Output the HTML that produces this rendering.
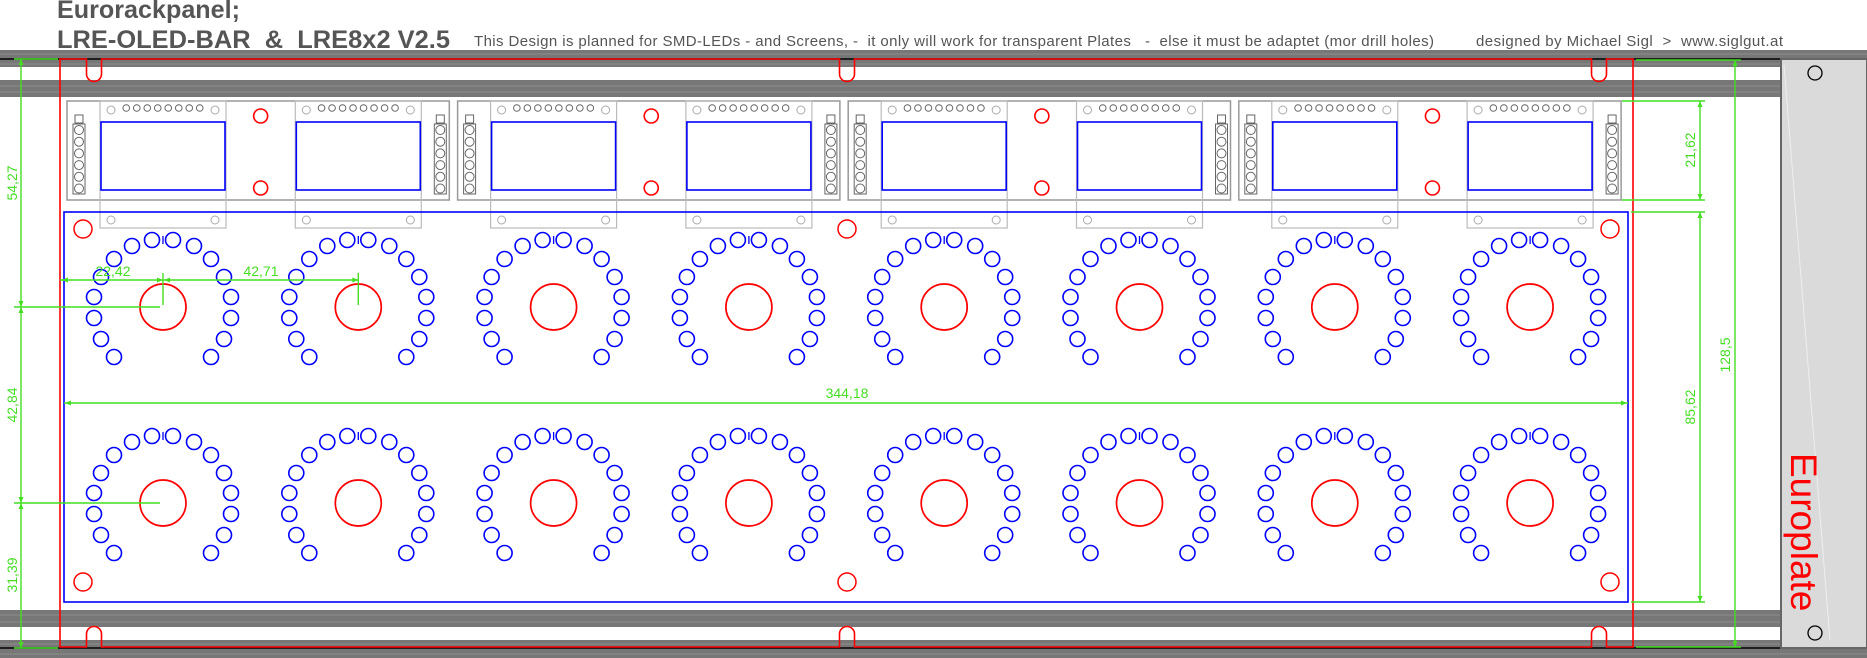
<!DOCTYPE html>
<html><head><meta charset="utf-8"><style>
html,body{margin:0;padding:0;background:#fff;width:1867px;height:658px;overflow:hidden}
svg{display:block}
text{font-family:"Liberation Sans",Arial,sans-serif}
</style></head><body>
<svg id="s" width="1867" height="658" viewBox="0 0 1867 658" xmlns="http://www.w3.org/2000/svg">
<rect width="1867" height="658" fill="#fff"/>
<!-- titles -->
<text x="57" y="18" font-size="25" font-weight="bold" fill="#555" textLength="183" lengthAdjust="spacingAndGlyphs">Eurorackpanel;</text>
<text x="57" y="48" font-size="25" font-weight="bold" fill="#555" textLength="393" lengthAdjust="spacingAndGlyphs" xml:space="preserve">LRE-OLED-BAR  &amp;  LRE8x2 V2.5</text>
<text x="474" y="46" font-size="15" fill="#555" textLength="960" xml:space="preserve">This Design is planned for SMD-LEDs - and Screens, -  it only will work for transparent Plates   -  else it must be adaptet (mor drill holes)</text>
<text x="1476" y="46" font-size="15" fill="#555" textLength="307" xml:space="preserve">designed by Michael Sigl  &gt;  www.siglgut.at</text>
<!-- rails -->
<rect x="0" y="50" width="1867" height="17" fill="#777"/>
<rect x="0" y="80" width="1781" height="17" fill="#777"/>
<rect x="0" y="610" width="1781" height="17" fill="#777"/>
<rect x="0" y="640" width="1867" height="18" fill="#777"/>
<g stroke="#999" stroke-width="1" opacity="0.7">
<line x1="0" y1="54" x2="1867" y2="54"/><line x1="0" y1="64" x2="1781" y2="64"/>
<line x1="0" y1="86" x2="1781" y2="86"/><line x1="0" y1="92" x2="1781" y2="92"/>
<line x1="0" y1="615" x2="1781" y2="615"/><line x1="0" y1="622" x2="1781" y2="622"/>
<line x1="0" y1="644" x2="1867" y2="644"/><line x1="0" y1="654" x2="1867" y2="654"/>
</g>
<line x1="0" y1="59" x2="1867" y2="59" stroke="#000" stroke-width="1.5"/>
<line x1="0" y1="648" x2="1867" y2="648" stroke="#000" stroke-width="1.5"/>
<!-- europlate block -->
<rect x="1781" y="59" width="86" height="589" fill="#d9dad9" stroke="#666" stroke-width="2"/>
<line x1="1784" y1="65" x2="1830" y2="640" stroke="#eee" stroke-width="1"/>
<circle cx="1815" cy="73" r="7" fill="none" stroke="#000" stroke-width="1.3"/>
<circle cx="1815" cy="633" r="7" fill="none" stroke="#000" stroke-width="1.3"/>
<text transform="translate(1791,453) rotate(90)" font-size="37" fill="#f00">Europlate</text>
<g id="dyn"></g>
</svg>
<script>
var NS="http://www.w3.org/2000/svg",g=document.getElementById("dyn");
function el(t,a,txt){var e=document.createElementNS(NS,t);for(var k in a)e.setAttribute(k,a[k]);if(txt!=null)e.textContent=txt;g.appendChild(e);return e;}
var K=[];for(var i=0;i<8;i++)K.push(163+i*195.3);
function slotTop(cx){return " L"+(cx-7.5)+",59 L"+(cx-7.5)+",74 A7.5,7.5 0 0 0 "+(cx+7.5)+",74 L"+(cx+7.5)+",59";}
function slotBot(cx){return " L"+(cx+7.5)+",647 L"+(cx+7.5)+",634 A7.5,7.5 0 0 0 "+(cx-7.5)+",634 L"+(cx-7.5)+",647";}
var d="M60,647 L60,59"+slotTop(94)+slotTop(847)+slotTop(1599)+" L1633,59 L1633,647"+slotBot(1599)+slotBot(847)+slotBot(94)+" Z";
el("path",{d:d,fill:"none",stroke:"#f00","stroke-width":1.6});
for(var gi=0;gi<4;gi++){
 var k0=K[2*gi],k1=K[2*gi+1];
 el("rect",{x:k0-96,y:101,width:(k1+91)-(k0-96),height:99,fill:"none",stroke:"#999","stroke-width":1.5});
 [k0,k1].forEach(function(k){
  el("rect",{x:k-63,y:101,width:126,height:127,fill:"none",stroke:"#bbb","stroke-width":1.2});
  el("rect",{x:k-62,y:122,width:124,height:68,fill:"none",stroke:"#00f","stroke-width":1.6});
  [[k-52,110],[k+52,110],[k-52,220],[k+52,220]].forEach(function(p){el("circle",{cx:p[0],cy:p[1],r:4,fill:"none",stroke:"#aaa","stroke-width":1});});
  for(var j=0;j<8;j++)el("circle",{cx:k-36.75+j*10.5,cy:108,r:3.3,fill:"none",stroke:"#666","stroke-width":1});
 });
 [k0-90,k1+76].forEach(function(hx){
  el("rect",{x:hx+2,y:115,width:8,height:8,fill:"none",stroke:"#666","stroke-width":1});
  el("rect",{x:hx,y:124,width:12,height:70,fill:"none",stroke:"#666","stroke-width":1});
  for(var j=0;j<6;j++)el("circle",{cx:hx+6,cy:130+j*11.7,r:4.5,fill:"none",stroke:"#666","stroke-width":1});
 });
 var m=(k0+k1)/2;
 el("circle",{cx:m,cy:116,r:7,fill:"none",stroke:"#f00","stroke-width":1.6});
 el("circle",{cx:m,cy:188,r:7,fill:"none",stroke:"#f00","stroke-width":1.6});
}
el("rect",{x:64,y:212,width:1564,height:390,fill:"none",stroke:"#00f","stroke-width":1.6});
[[83,229],[847,229],[1610,229],[83,582],[847,582],[1610,582]].forEach(function(p){el("circle",{cx:p[0],cy:p[1],r:9,fill:"none",stroke:"#f00","stroke-width":1.5});});
var L=[[-11,-67],[10,-67],[-31,-61],[31,-61],[-49,-48],[48,-48],[-62,-30],[61,-30],[-69,-10],[68,-10],[-69,11],[68,11],[-62,32],[61,32],[-49,50],[48,50]];
[307,503].forEach(function(cy){K.forEach(function(cx){
 el("circle",{cx:cx,cy:cy,r:23,fill:"none",stroke:"#f00","stroke-width":1.7});
 L.forEach(function(o){el("circle",{cx:cx+o[0],cy:cy+o[1],r:7.5,fill:"none",stroke:"#00f","stroke-width":1.6});});
 el("line",{x1:cx,y1:cy-71,x2:cx,y2:cy-63,stroke:"#00f","stroke-width":1.3});
});});
var G="#44dd22";
function ln(x1,y1,x2,y2){el("line",{x1:x1,y1:y1,x2:x2,y2:y2,stroke:G,"stroke-width":1.4});}
function arr(x,y,dir){var s=6,w=2.5,p;
 if(dir=="u")p=[x,y,x-w,y+s,x+w,y+s];if(dir=="d")p=[x,y,x-w,y-s,x+w,y-s];
 if(dir=="l")p=[x,y,x+s,y-w,x+s,y+w];if(dir=="r")p=[x,y,x-s,y-w,x-s,y+w];
 el("polygon",{points:p.join(","),fill:G});}
function vtxt(x,y,t){el("text",{transform:"translate("+x+","+y+") rotate(-90)","font-size":14,fill:G,"text-anchor":"middle"},t);}
ln(21,59,21,648);ln(14,59,58,59);ln(14,307,160,307);ln(14,503,160,503);ln(14,648,58,648);
arr(21,59,"u");arr(21,307,"d");arr(21,307,"u");arr(21,503,"d");arr(21,503,"u");arr(21,648,"d");
vtxt(17,183,"54,27");vtxt(17,405,"42,84");vtxt(17,575,"31,39");
ln(60,280,K[1],280);ln(K[0],273,K[0],305);ln(K[1],273,K[1],305);
arr(62,280,"l");arr(K[0],280,"r");arr(K[0]+1,280,"l");arr(K[1],280,"r");
el("text",{x:113,y:276,"font-size":14,fill:G,"text-anchor":"middle"},"22,42");
el("text",{x:261,y:276,"font-size":14,fill:G,"text-anchor":"middle"},"42,71");
ln(64,403,1628,403);arr(65,403,"l");arr(1627,403,"r");
el("text",{x:847,y:398,"font-size":14,fill:G,"text-anchor":"middle"},"344,18");
ln(1622,101,1705,101);ln(1622,200,1705,200);ln(1700,101,1700,200);arr(1700,101,"u");arr(1700,200,"d");
vtxt(1695,150,"21,62");
ln(1631,212,1705,212);ln(1631,602,1705,602);ln(1700,212,1700,602);arr(1700,212,"u");arr(1700,602,"d");
vtxt(1695,407,"85,62");
ln(1636,60,1741,60);ln(1636,647,1741,647);ln(1735,60,1735,647);arr(1735,60,"u");arr(1735,647,"d");
vtxt(1730,355,"128,5");
</script>
</body></html>
